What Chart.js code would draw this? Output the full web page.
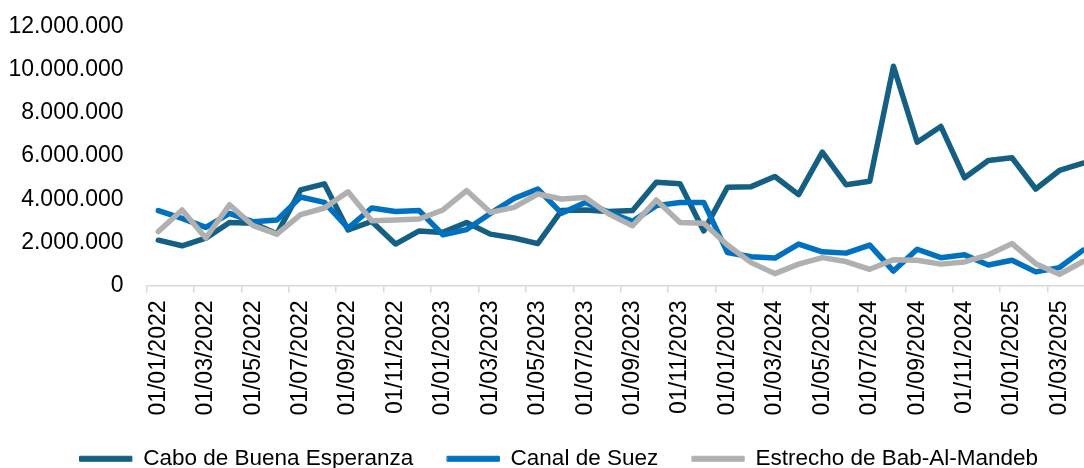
<!DOCTYPE html>
<html lang="es">
<head>
<meta charset="UTF-8">
<title>Tránsito por ruta marítima</title>
<script src="https://cdn.jsdelivr.net/npm/chart.js"></script>
<style>
  html, body { margin: 0; padding: 0; background: #fff; overflow: hidden; }
  .wrap { width: 1084px; height: 468px; overflow: hidden; }
  canvas { display: block; }
</style>
</head>
<body>
<div class="wrap"><canvas id="chart" width="1100" height="480"></canvas></div>
<script>
// meses (01/01/2022 - 01/04/2025)
const months = [
  '01/01/2022','01/02/2022','01/03/2022','01/04/2022','01/05/2022','01/06/2022',
  '01/07/2022','01/08/2022','01/09/2022','01/10/2022','01/11/2022','01/12/2022',
  '01/01/2023','01/02/2023','01/03/2023','01/04/2023','01/05/2023','01/06/2023',
  '01/07/2023','01/08/2023','01/09/2023','01/10/2023','01/11/2023','01/12/2023',
  '01/01/2024','01/02/2024','01/03/2024','01/04/2024','01/05/2024','01/06/2024',
  '01/07/2024','01/08/2024','01/09/2024','01/10/2024','01/11/2024','01/12/2024',
  '01/01/2025','01/02/2025','01/03/2025','01/04/2025'
];

const cabo = [
  2100000, 1840000, 2190000, 2920000, 2880000, 2400000, 4430000, 4710000, 2570000, 2970000,
  1920000, 2530000, 2460000, 2920000, 2380000, 2200000, 1940000, 3470000, 3500000, 3430000,
  3470000, 4780000, 4710000, 2530000, 4550000, 4580000, 5050000, 4210000, 6180000, 4670000,
  4830000, 10160000, 6640000, 7370000, 4990000, 5790000, 5920000, 4470000, 5330000, 5670000
];

const suez = [
  3470000, 3110000, 2690000, 3340000, 2950000, 3030000, 4100000, 3850000, 2660000, 3590000,
  3430000, 3470000, 2350000, 2590000, 3340000, 4030000, 4470000, 3350000, 3850000, 3390000,
  2970000, 3700000, 3850000, 3850000, 1530000, 1330000, 1270000, 1920000, 1560000, 1500000,
  1870000, 670000, 1680000, 1290000, 1420000, 950000, 1170000, 630000, 830000, 1640000
];

const bab = [
  2500000, 3500000, 2200000, 3740000, 2770000, 2380000, 3280000, 3590000, 4340000, 3000000,
  3030000, 3080000, 3500000, 4400000, 3390000, 3620000, 4240000, 4010000, 4080000, 3310000,
  2770000, 3960000, 2920000, 2880000, 1880000, 1060000, 550000, 990000, 1290000, 1110000,
  750000, 1190000, 1170000, 990000, 1090000, 1420000, 1940000, 1010000, 520000, 1110000
];

const yTicks = [0, 2000000, 4000000, 6000000, 8000000, 10000000, 12000000];

const FAMILY = "'Liberation Sans', Arial, sans-serif";
const TICK_FONT = { family: FAMILY, size: 23 };
const LEGEND_FONT = { family: FAMILY, size: 22.5 };

function fmt(v) {
  return String(v).replace(/\B(?=(\d{3})+(?!\d))/g, '.');
}

function line(label, data, color, order) {
  return {
    label: label,
    data: data,
    borderColor: color,
    backgroundColor: color,
    borderWidth: 5.5,
    borderCapStyle: 'round',
    borderJoinStyle: 'round',
    pointRadius: 0,
    tension: 0,
    fill: false,
    order: order
  };
}

// ajustes tras el layout: leyenda algo a la derecha, y las fechas
// del eje x no se recortan aunque bajen un poco de su caja
const tweakLayout = {
  id: 'tweakLayout',
  afterLayout(chart) {
    const lg = chart.legend;
    if (lg) { lg.left += 11.5; lg.right += 11.5; }
    const x = chart.scales.x;
    if (x && lg) { x.bottom = Math.max(x.bottom, lg.top + 12); }
  }
};

const ctx = document.getElementById('chart').getContext('2d');
new Chart(ctx, {
  type: 'line',
  data: {
    labels: months,
    datasets: [
      line('Cabo de Buena Esperanza', cabo, '#156082', 3),
      line('Canal de Suez', suez, '#0070C0', 2),
      line('Estrecho de Bab-Al-Mandeb', bab, '#B0B0B0', 1)
    ]
  },
  plugins: [tweakLayout],
  options: {
    responsive: false,
    animation: false,
    layout: { padding: { top: 26.5, left: 0, right: 5, bottom: 0 } },
    plugins: {
      tooltip: { enabled: false },
      legend: {
        position: 'bottom',
        labels: {
          font: LEGEND_FONT,
          color: '#000',
          boxWidth: 52,
          boxHeight: 5,
          padding: 34,
          sort: (a, b) => a.datasetIndex - b.datasetIndex,
          generateLabels: chart => chart.data.datasets.map((ds, i) => ({
            text: ds.label,
            fillStyle: ds.borderColor,
            strokeStyle: ds.borderColor,
            lineWidth: 1,
            lineCap: 'round',
            hidden: false,
            datasetIndex: i,
            fontColor: '#000'
          }))
        }
      }
    },
    scales: {
      x: {
        offset: true,
        afterFit: s => { s.paddingLeft = 0; s.paddingRight = 0; s.height = 128; },
        grid: {
          offset: true,
          drawOnChartArea: false,
          drawTicks: true,
          tickLength: 7,
          lineWidth: 1.5,
          color: c => (c.index % 2 === 0 ? '#d9d9d9' : 'rgba(0,0,0,0)')
        },
        border: { color: '#d9d9d9', width: 1.5 },
        ticks: {
          autoSkip: false,
          maxRotation: 90,
          minRotation: 90,
          padding: 8,
          font: TICK_FONT,
          color: '#000',
          callback: (v, i) => (i % 2 === 0 ? months[i] : '')
        }
      },
      y: {
        min: 0,
        max: 12000000,
        afterFit: s => { s.width = 146.5; s.paddingTop = 0; s.paddingBottom = 0; },
        afterBuildTicks: s => { s.ticks = yTicks.map(v => ({ value: v })); },
        grid: { display: false, drawTicks: false },
        border: { display: false },
        ticks: {
          padding: 23,
          font: TICK_FONT,
          color: '#000',
          callback: v => fmt(v)
        }
      }
    }
  }
});
</script>
</body>
</html>
